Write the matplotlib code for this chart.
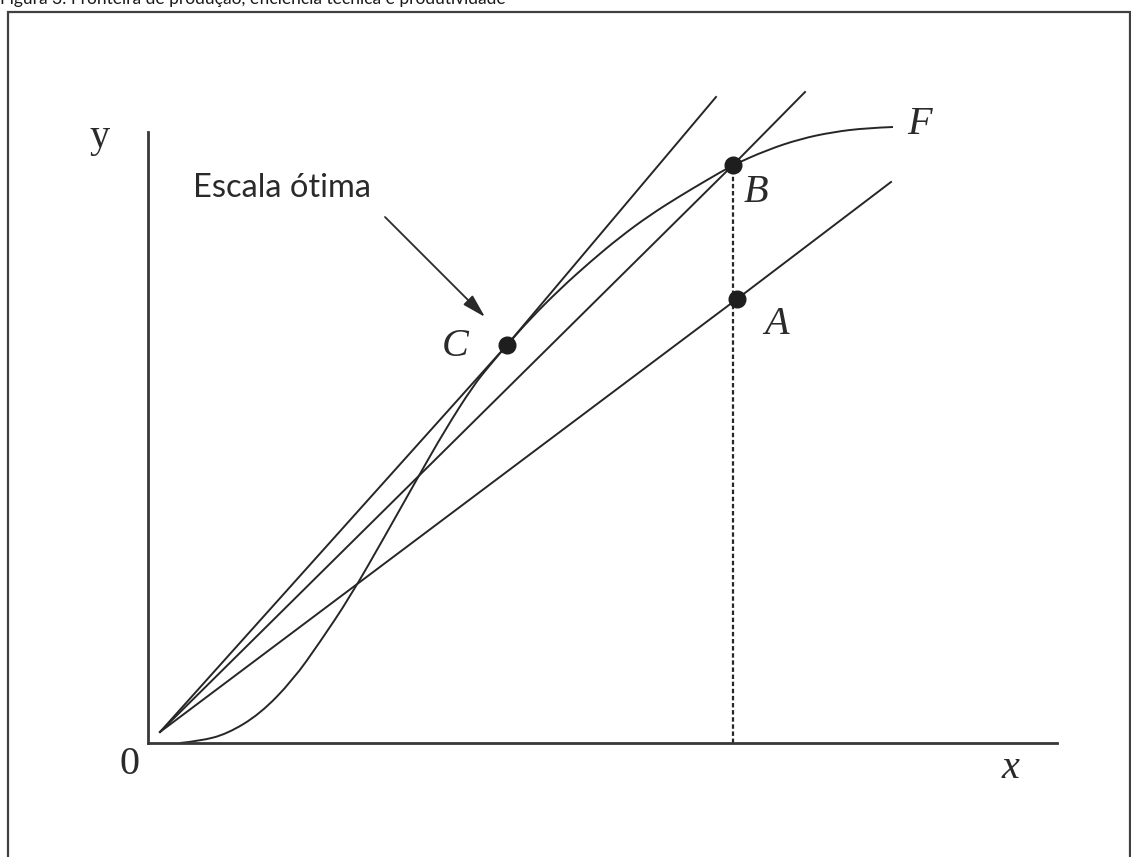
import matplotlib
matplotlib.use("Agg")
import matplotlib.pyplot as plt
from matplotlib.patches import Rectangle, PathPatch
from matplotlib.path import Path

# ---- data (x, y in chart units) ----
frontier_x = [0.32, 0.52, 0.79, 1.12, 1.45, 1.72, 2.02, 2.37, 2.69, 2.97, 3.25, 3.42,
              3.59, 3.82, 4.12, 4.42, 4.72, 5.02, 5.32, 5.59, 5.85, 6.19, 6.52, 6.85,
              7.19, 7.45]
frontier_y = [0.00, 0.02, 0.09, 0.29, 0.63, 1.01, 1.46, 2.07, 2.64, 3.13, 3.57, 3.78,
              3.98, 4.24, 4.54, 4.81, 5.06, 5.28, 5.47, 5.63, 5.78, 5.93, 6.04, 6.11,
              6.15, 6.16]

ray_c_x = [0.12, 3.59, 5.68]
ray_c_y = [0.11, 3.98, 6.46]
ray_b_x = [0.12, 5.85, 6.57]
ray_b_y = [0.11, 5.78, 6.51]
ray_a_x = [0.12, 5.89, 7.43]
ray_a_y = [0.11, 4.44, 5.61]

point_names = ["C", "B", "A"]
point_x = [3.59, 5.85, 5.89]
point_y = [3.98, 5.78, 4.44]

x_axis_max = 9.09
y_axis_max = 6.11

title = "Figura 3. Fronteira de produção, eficiência técnica e produtividade"
annot_text = "Escala ótima"

W, H = 1131, 857
fig = plt.figure(figsize=(W / 100, H / 100), dpi=100)
ax = fig.add_axes([0, 0, 1, 1])
ax.set_xlim(-1.48, (W - 148) / 100)
ax.set_ylim((743 - H) / 100, 7.43)
ax.set_xticks([])
ax.set_yticks([])
ax.patch.set_alpha(0)

axc = "#383838"
lc = "#262626"
for s in ["top", "right"]:
    ax.spines[s].set_visible(False)
ax.spines["left"].set_position(("data", 0))
ax.spines["bottom"].set_position(("data", 0))
ax.spines["left"].set_bounds(0, y_axis_max)
ax.spines["bottom"].set_bounds(0, x_axis_max)
for s in ["left", "bottom"]:
    ax.spines[s].set_color(axc)
    ax.spines[s].set_linewidth(2.0)

lw = 1.4

# frontier drawn as a smooth quadratic-Bezier path using the read points as controls
pts = list(zip(frontier_x, frontier_y))
verts = [pts[0]]
codes = [Path.MOVETO]
for i in range(1, len(pts) - 1):
    mid = ((pts[i][0] + pts[i + 1][0]) / 2, (pts[i][1] + pts[i + 1][1]) / 2)
    if i == len(pts) - 2:
        mid = pts[-1]
    verts += [pts[i], mid]
    codes += [Path.CURVE3, Path.CURVE3]
ax.add_patch(PathPatch(Path(verts, codes), fill=False, edgecolor=lc, lw=lw))

ax.plot(ray_c_x, ray_c_y, color=lc, lw=lw)
ax.plot(ray_b_x, ray_b_y, color=lc, lw=lw)
ax.plot(ray_a_x, ray_a_y, color=lc, lw=lw)

# dashed drop line from B
ax.plot([point_x[1], point_x[1]], [0, point_y[1]], color=lc, lw=1.6,
        linestyle=(0, (2.0, 1.2)))

ax.plot(point_x, point_y, "o", color="#1e1e1e", markersize=12, zorder=5)

serif = ["Liberation Serif", "DejaVu Serif"]
fs = 29
tc = "#2a2a2a"
ax.text(-0.48, 6.06, "y", fontsize=fs, family=serif, ha="center", va="center", color=tc)
ax.text(-0.18, -0.22, "0", fontsize=fs, family=serif, ha="center", va="center", color=tc)
ax.text(8.62, -0.26, "x", fontsize=fs, family=serif, style="italic", ha="center", va="center", color=tc)
ax.text(7.72, 6.18, "F", fontsize=fs, family=serif, style="italic", ha="center", va="center", color=tc)
ax.text(6.08, 5.51, "B", fontsize=fs, family=serif, style="italic", ha="center", va="center", color=tc)
ax.text(6.29, 4.19, "A", fontsize=fs, family=serif, style="italic", ha="center", va="center", color=tc)
ax.text(3.07, 3.97, "C", fontsize=fs, family=serif, style="italic", ha="center", va="center", color=tc)

ax.text(1.34, 5.55, annot_text, fontsize=23.5, family=["Lato", "DejaVu Sans"],
        ha="center", va="center", color=tc)
ax.annotate("", xy=(3.37, 4.26), xytext=(2.37, 5.26),
            arrowprops=dict(arrowstyle="-|>,head_length=0.9,head_width=0.25",
                            color=tc, lw=1.3, mutation_scale=16,
                            shrinkA=0, shrinkB=0))

# outer frame
fig.add_artist(Rectangle((8 / W, -0.05), (1130 - 8) / W, 1.05 - 12 / H,
                         transform=fig.transFigure, fill=False,
                         edgecolor="#404040", lw=1.6))

# title at top (clipped by the page edge, as in the source)
fig.text(0.0, 1 - 4.0 / H, title, fontsize=12.5, family=["Lato", "DejaVu Sans"],
         ha="left", va="baseline", color="#1a1a1a")

fig.savefig("out.png", dpi=100)
